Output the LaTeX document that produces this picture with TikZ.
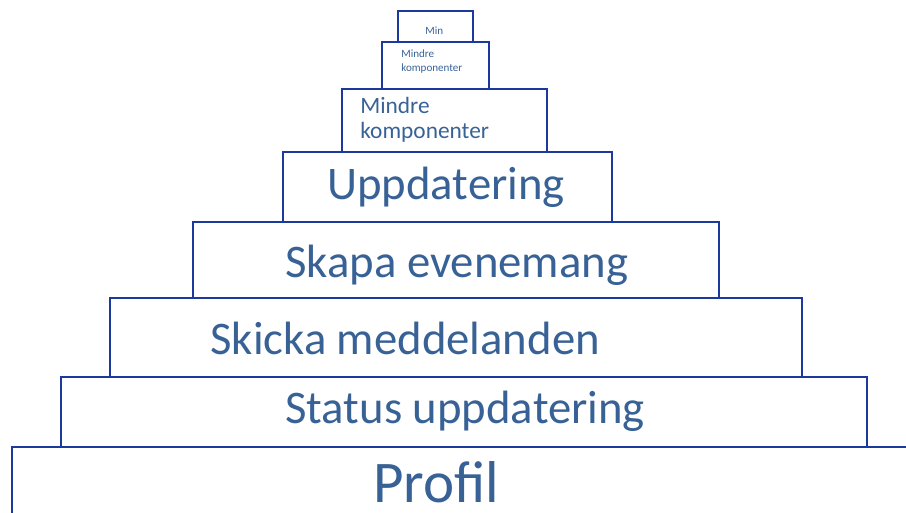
\documentclass[tikz,border=0pt]{standalone}
\usepackage{fontspec}
\setmainfont{Carlito}
\usetikzlibrary{positioning}

\definecolor{boxblue}{RGB}{28,58,158}
\definecolor{wordblue}{RGB}{56,98,150}

\begin{document}
\begin{tikzpicture}[x=0.02cm, y=-0.02cm,
  block/.style={draw=boxblue, line width=1.4pt},
  word/.style={text=wordblue, inner sep=0pt, anchor=base west}]
\useasboundingbox (0,0) rectangle (906,512);
\clip (0,0) rectangle (906,512);

% steps of the pyramid, bottom to top
\draw[block] (12,447) rectangle (930,540);
\draw[block] (61,377) rectangle (867,447);
\draw[block] (110,298) rectangle (802,377);
\draw[block] (193,222) rectangle (719,298);
\draw[block] (283,152) rectangle (612,222);
\draw[block] (342,89) rectangle (547,152);
\draw[block] (382,42) rectangle (489,89);
\draw[block] (398,11) rectangle (473,42);

\node[word, font=\fontsize{33.6}{38}\selectfont] (profil) at (373,502) {Profil};
\node[word, font=\fontsize{26.6}{30}\selectfont] (status) at (285,423) {Status uppdatering};
\node[word, font=\fontsize{26.6}{30}\selectfont] (skicka) at (210,354) {Skicka meddelanden};
\node[word, font=\fontsize{26.6}{30}\selectfont] (skapa) at (285,277) {Skapa evenemang};
\node[word, font=\fontsize{26.6}{30}\selectfont] (uppd) at (327,199) {Uppdatering};
\node[word, font=\fontsize{13.3}{14.4}\selectfont, align=left, anchor=north west]
  (mindreA) at (360,97) {Mindre\\komponenter};
\node[word, font=\fontsize{6.3}{8}\selectfont, align=left, anchor=north west]
  (mindreB) at (401,49) {Mindre\\komponenter};
\node[word, font=\fontsize{6.3}{8}\selectfont] (min) at (425,34) {Min};
\end{tikzpicture}
\end{document}
